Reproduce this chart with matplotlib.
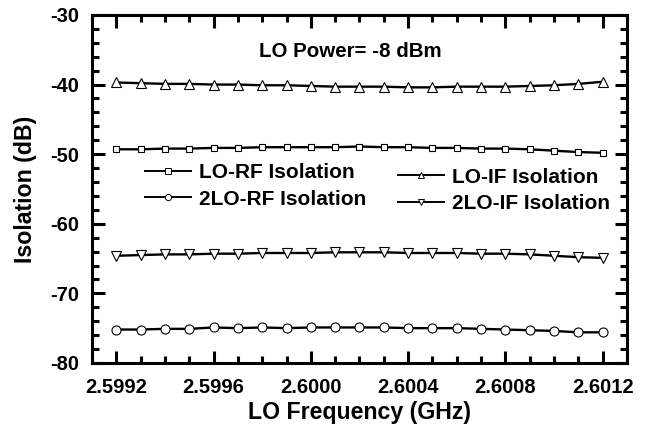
import numpy as np
import matplotlib
matplotlib.use("Agg")
import matplotlib.pyplot as plt
from matplotlib.lines import Line2D
from matplotlib.ticker import MultipleLocator, FormatStrFormatter

plt.rcParams['font.family'] = ['Liberation Sans', 'DejaVu Sans']
plt.rcParams['font.weight'] = 'bold'
plt.rcParams['axes.unicode_minus'] = False

freq_ghz = [2.5992, 2.5993, 2.5994, 2.5995, 2.5996, 2.5997, 2.5998, 2.5999,
            2.6000, 2.6001, 2.6002, 2.6003, 2.6004, 2.6005, 2.6006, 2.6007,
            2.6008, 2.6009, 2.6010, 2.6011, 2.6012]

lo_if = [-39.7, -39.8, -39.9, -39.9, -40.0, -40.0, -40.1, -40.1, -40.2, -40.3, -40.3,
         -40.3, -40.4, -40.4, -40.3, -40.3, -40.3, -40.2, -40.1, -39.9, -39.6]
lo_rf = [-49.3, -49.3, -49.2, -49.2, -49.1, -49.1, -49.0, -49.0, -49.0, -49.0, -48.9,
         -49.0, -49.0, -49.1, -49.1, -49.2, -49.2, -49.3, -49.5, -49.7, -49.8]
lo2_if = [-64.6, -64.5, -64.4, -64.4, -64.3, -64.3, -64.2, -64.2, -64.2, -64.1, -64.1,
          -64.1, -64.2, -64.2, -64.2, -64.3, -64.3, -64.4, -64.6, -64.8, -64.9]
lo2_rf = [-75.2, -75.2, -75.1, -75.1, -74.9, -75.0, -74.9, -75.0, -74.9, -74.9, -74.9,
          -74.9, -75.0, -75.0, -75.0, -75.1, -75.2, -75.3, -75.4, -75.6, -75.6]

fig = plt.figure(figsize=(6.46, 4.28), dpi=100)
ax = fig.add_axes([0.1424, 0.152, 0.8282, 0.813])

line_kw = dict(color='black', lw=1.7, mfc='white', mec='black', mew=0.8)
ax.plot(freq_ghz, lo_if, marker='^', ms=7.5, **line_kw)
ax.plot(freq_ghz, lo_rf, marker='s', ms=5, **line_kw)
ax.plot(freq_ghz, lo2_if, marker='v', ms=7.5, **line_kw)
ax.plot(freq_ghz, lo2_rf, marker='o', ms=6.5, **line_kw)

ax.set_xlim(2.5991, 2.6013)
ax.set_ylim(-80, -30)
ax.xaxis.set_major_locator(MultipleLocator(0.0004))
ax.xaxis.set_minor_locator(MultipleLocator(0.0001))
ax.xaxis.set_major_formatter(FormatStrFormatter('%.4f'))
ax.yaxis.set_major_locator(MultipleLocator(10))
ax.yaxis.set_minor_locator(MultipleLocator(2))
ax.tick_params(which='both', direction='in', top=True, right=True, width=2.2,
               labelsize=14.5)
ax.tick_params(axis='x', pad=11)
ax.tick_params(axis='y', pad=9)
ax.tick_params(which='major', length=9)
ax.tick_params(which='minor', length=5)
for s in ax.spines.values():
    s.set_linewidth(2.2)

ax.set_xlabel('LO Frequency (GHz)', fontsize=16.7, fontweight='bold', labelpad=3)
ax.set_ylabel('Isolation (dB)', fontsize=16.7, fontweight='bold', labelpad=10)

ax.text(0.483, 0.895, 'LO Power= -8 dBm', transform=ax.transAxes, ha='center',
        va='center', fontsize=14.8, fontweight='bold')

def handle(marker, ms):
    return Line2D([], [], color='black', lw=1.4, marker=marker, ms=ms,
                  mfc='white', mec='black', mew=0.7)

leg_kw = dict(loc='upper left', frameon=False, prop=dict(size=15, weight='bold'),
              handlelength=2.2, handletextpad=0.4, labelspacing=0.36,
              borderpad=0, borderaxespad=0)
leg1 = ax.legend([handle('s', 4), handle('o', 4.5)],
                 ['LO-RF Isolation', '2LO-RF Isolation'],
                 bbox_to_anchor=(0.099, 0.574), **leg_kw)
ax.add_artist(leg1)
ax.legend([handle('^', 5), handle('v', 5)],
          ['LO-IF Isolation', '2LO-IF Isolation'],
          bbox_to_anchor=(0.572, 0.561), **leg_kw)

fig.savefig('out.png', dpi=100)
